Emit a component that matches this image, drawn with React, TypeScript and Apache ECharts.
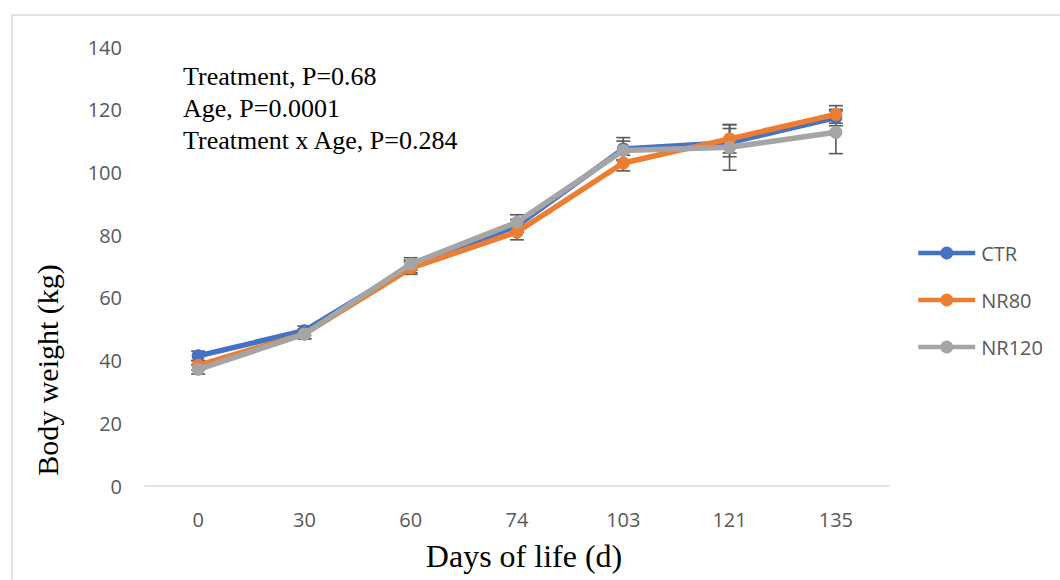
import React, { useEffect, useRef } from "react";
import * as echarts from "echarts";

const days = ["0", "30", "60", "74", "103", "121", "135"];
const ctr = [41.5, 49.5, 70, 83, 107.5, 109.5, 117.5];
const nr80 = [38.5, 48.5, 69.5, 81, 103, 110.7, 118.5];
const nr120 = [37.2, 48.4, 70.8, 84.1, 107, 108, 112.8];
const ctrErr = [1.5, 1.5, 2, 2, 3.6, 4.5, 2.6];
const nr80Err = [1.5, 1.5, 2, 2.5, 2.5, 4.5, 2.8];
const nr120Err = [1.5, 1.5, 2, 2.4, 3, 7.3, 6.8];
const yTicks = [0, 20, 40, 60, 80, 100, 120, 140];
const annotation = ["Treatment, P=0.68", "Age, P=0.0001", "Treatment x Age, P=0.284"];

const seriesDefs = [
  { name: "CTR", values: ctr, errs: ctrErr, color: "#4472C4" },
  { name: "NR80", values: nr80, errs: nr80Err, color: "#ED7D31" },
  { name: "NR120", values: nr120, errs: nr120Err, color: "#A5A5A5" },
];

const SANS = "'Open Sans', 'Noto Sans', sans-serif";
const SERIF = "'Liberation Serif', 'DejaVu Serif', serif";

export default function App() {
  const ref = useRef<HTMLDivElement>(null);
  useEffect(() => {
    if (!ref.current) return;
    const chart = echarts.init(ref.current, null, { renderer: "svg" });
    const errSeries = seriesDefs.map((s) => ({
      type: "custom",
      name: s.name + " err",
      z: 1,
      silent: true,
      data: s.values.map((v, i) => [i, v, s.errs[i]]),
      renderItem: (params: any, api: any) => {
        const i = api.value(0);
        const v = api.value(1);
        const e = api.value(2);
        const top = api.coord([i, v + e]);
        const bot = api.coord([i, v - e]);
        const w = 7;
        const st = { stroke: "#595959", lineWidth: 1.6 };
        return {
          type: "group",
          children: [
            { type: "line", shape: { x1: top[0], y1: top[1], x2: bot[0], y2: bot[1] }, style: st },
            { type: "line", shape: { x1: top[0] - w, y1: top[1], x2: top[0] + w, y2: top[1] }, style: st },
            { type: "line", shape: { x1: bot[0] - w, y1: bot[1], x2: bot[0] + w, y2: bot[1] }, style: st },
          ],
        };
      },
    }));
    const lineSeries = seriesDefs.map((s, k) => ({
      type: "line",
      name: s.name,
      data: s.values,
      z: 2 + k,
      symbol: "circle",
      symbolSize: 13,
      lineStyle: { width: 5.5, color: s.color },
      itemStyle: { color: s.color },
    }));
    chart.setOption({
      animation: false,
      grid: { left: 145, right: 171, top: 47, bottom: 94 },
      xAxis: {
        type: "category",
        data: days,
        boundaryGap: true,
        axisLine: { lineStyle: { color: "#d9d9d9", width: 1.5 } },
        axisTick: { show: false },
        axisLabel: { color: "#595959", fontFamily: SANS, fontSize: 20, margin: 23 },
      },
      yAxis: {
        type: "value",
        min: yTicks[0],
        max: yTicks[yTicks.length - 1],
        interval: 20,
        axisLine: { show: false },
        axisTick: { show: false },
        splitLine: { show: false },
        axisLabel: { color: "#595959", fontFamily: SANS, fontSize: 20, margin: 23 },
      },
      legend: {
        data: seriesDefs.map((s) => s.name),
        orient: "vertical",
        left: 916,
        top: 242,
        padding: 0,
        itemWidth: 57,
        itemHeight: 16,
        itemGap: 25,
        lineStyle: { width: 4.5 },
        textStyle: { color: "#595959", fontFamily: SANS, fontSize: 20, lineHeight: 22, padding: [0, 0, 0, 1] },
      },
      graphic: [
        {
          type: "rect",
          silent: true,
          shape: { x: 12, y: 15, width: 1100, height: 620 },
          style: { fill: "none", stroke: "#d9d9d9", lineWidth: 1.5 },
        },
        ...annotation.map((t, i) => ({
          type: "text",
          left: 183,
          top: 63 + i * 32,
          style: { text: t, fill: "#000", font: `26px ${SERIF}` },
        })),
        {
          type: "text",
          x: 47,
          y: 370,
          rotation: Math.PI / 2,
          style: {
            text: "Body weight (kg)",
            fill: "#000",
            font: `30px ${SERIF}`,
            align: "center",
            verticalAlign: "middle",
          },
        },
        {
          type: "text",
          x: 524,
          y: 556,
          style: {
            text: "Days of life (d)",
            fill: "#000",
            font: `32px ${SERIF}`,
            align: "center",
            verticalAlign: "middle",
          },
        },
      ],
      series: [...errSeries, ...lineSeries],
    });
    return () => chart.dispose();
  }, []);
  return (
    <div
      ref={ref}
      style={{ position: "fixed", left: 0, top: 0, width: 1060, height: 580, background: "#fff" }}
    />
  );
}
